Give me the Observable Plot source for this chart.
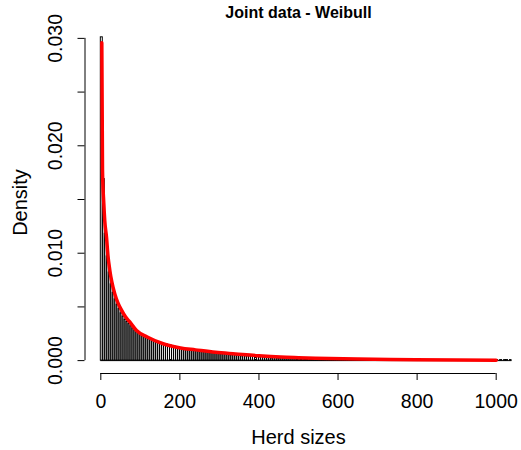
<!DOCTYPE html>
<html><head><meta charset="utf-8">
<script src="https://cdn.jsdelivr.net/npm/d3@7"></script>
<script src="https://cdn.jsdelivr.net/npm/@observablehq/plot@0.6"></script>
<style>body{margin:0;background:#fff;} svg{display:block}</style>
</head><body><div id="chart"></div>
<script>
const title = "Joint data - Weibull";
const xLabel = "Herd sizes";
const yLabel = "Density";
const binWidth = 5;
// histogram densities, one per 5-unit bin starting at 0
const densities = [
  0.0301, 0.0169, 0.0118, 0.0097, 0.0082, 0.0071, 0.0063, 0.0057, 0.0052, 0.0048,
  0.0044, 0.0041, 0.0038, 0.0036, 0.0034, 0.0032, 0.0030, 0.0028, 0.0027, 0.0025,
  0.0024, 0.0023, 0.0022, 0.0021, 0.0020, 0.0020, 0.0019, 0.0018, 0.0018, 0.0017,
  0.0016, 0.0016, 0.0015, 0.0015, 0.0014, 0.0014, 0.0013, 0.0013, 0.0012, 0.0012,
  0.0011, 0.0011, 0.0011, 0.0010, 0.0010, 0.0010, 0.0009, 0.0010, 0.0009, 0.0009,
  0.0008, 0.0009, 0.0008, 0.0008, 0.0008, 0.0007, 0.0008, 0.0007, 0.0007, 0.0007,
  0.0006, 0.0006, 0.0007, 0.0006, 0.0006, 0.0005, 0.0005, 0.0006, 0.0005, 0.0005,
  0.0005, 0.0004, 0.0005, 0.0004, 0.0004, 0.0004, 0.0004, 0.0004, 0.0003, 0.0004,
  0.0003, 0.0004, 0.0003, 0.0003, 0.0003, 0.0003, 0.0002, 0.0003, 0.0003, 0.0002,
  0.0002, 0.0003, 0.0002, 0.0002, 0.0002, 0.0002, 0.0002, 0.0002, 0.0002, 0.0001,
  0.0002, 0.0001, 0.0002, 0.0001, 0.0001, 0.0002, 0.0001, 0.0001, 0.0001, 0.0001,
  0.0001, 0.0001, 0.0001, 0.0002, 0.0001, 0.0001, 0.0001, 0.0001, 0.0001, 0.0001,
  0.0001, 0.0001, 0.00005, 0.0001, 0.0001, 0.00005, 0.0001, 0.00005, 0.0001, 0.00005,
  0.00005, 0.0001, 0.00005, 0.00005, 0.0001, 0.00005, 0.00005, 0.00005, 0.0001, 0.00005,
  0.00005, 0.00005, 0.00005, 0.0001, 0.00005, 0.00005, 0.00005, 0.00005, 0.00005, 0.00005,
  0.00005, 0.00005, 0, 0.00005, 0.00005, 0.00005, 0, 0.00005, 0.00005, 0.00005,
  0.00005, 0, 0.00005, 0.00005, 0, 0.00005, 0, 0.00005, 0.00005, 0,
  0.00005, 0, 0, 0.00005, 0.00005, 0, 0.00005, 0, 0, 0.00005,
  0, 0.00005, 0, 0.00005, 0, 0, 0.00005, 0, 0.00005, 0,
  0, 0.00005, 0, 0, 0.00005, 0, 0.00005, 0, 0, 0.00005,
  0.00005, 0, 0.00005, 0, 0.00005, 0.00005, 0, 0.00005, 0
];
// fitted Weibull density
const curveX = [2.5, 4.3, 7.6, 10, 14.4, 18, 22.8, 28, 35.4, 43, 52.4, 62, 73.3, 90.3, 117.3, 159.3, 201.6, 239.5, 290, 341, 400, 455, 500, 543, 650, 796, 900, 1000];
const curveY = [0.0296, 0.0177, 0.0146, 0.0130, 0.0115, 0.0098, 0.0084, 0.0073, 0.0062, 0.0054, 0.0047, 0.0041, 0.0036, 0.0028, 0.0022, 0.00155, 0.00118, 0.00100, 0.00077, 0.00062, 0.00045, 0.00033, 0.00027, 0.00022, 0.00014, 0.00008, 0.00005, 0.00003];
const xTicks = [0, 200, 400, 600, 800, 1000];
const yTicks = [0, 0.005, 0.01, 0.015, 0.02, 0.025, 0.03];
const yTickLabels = [0, 0.01, 0.02, 0.03];
const xLim = [0, 1000];
const yLim = [0, 0.03];

const bins = densities.map((d, i) => ({x1: i * binWidth, x2: (i + 1) * binWidth, density: d}));
const curvePts = curveX.map((x, i) => ({x, y: curveY[i]}));
const pad = 0.04;
const xDom = [xLim[0] - pad * (xLim[1] - xLim[0]), xLim[1] + pad * (xLim[1] - xLim[0])];
const yDom = [yLim[0] - pad * (yLim[1] - yLim[0]), yLim[1] + pad * (yLim[1] - yLim[0])];

const chart = Plot.plot({
  width: 521, height: 450,
  marginLeft: 84.5, marginRight: 9.5, marginTop: 25, marginBottom: 77,
  style: {fontFamily: "'Liberation Sans', Arial, sans-serif", fontSize: "19.5px", background: "white", color: "black"},
  x: {domain: xDom, label: null},
  y: {domain: yDom, label: null},
  marks: [
    Plot.rectY(bins, {x1: "x1", x2: "x2", y: "density", fill: "none", stroke: "black", strokeWidth: 1, clip: true}),
    Plot.ruleY([0], {x1: bins[0].x1, x2: bins[bins.length - 1].x2, stroke: "black", clip: true}),
    Plot.line(curvePts, {x: "x", y: "y", stroke: "red", strokeWidth: 3.5, curve: "monotone-x", clip: true}),
    Plot.axisX({ticks: xTicks, tickSize: 7, tickPadding: 14, label: null, tickFormat: d => String(d)}),
    Plot.ruleY([yDom[0]], {x1: xTicks[0], x2: xTicks[xTicks.length - 1]}),
    Plot.axisY({ticks: yTicks, tickSize: 7, tickFormat: () => "", label: null}),
    Plot.ruleX([xDom[0]], {y1: yTicks[0], y2: yTicks[yTicks.length - 1]}),
    Plot.text(yTickLabels, {y: d => d, text: d => d.toFixed(3), frameAnchor: "left", textAnchor: "middle", lineAnchor: "middle", dx: -29.5, rotate: -90}),
    Plot.text([yLabel], {frameAnchor: "left", textAnchor: "middle", lineAnchor: "middle", dx: -64.5, dy: 3, rotate: -90, fontSize: 20}),
    Plot.text([xLabel], {frameAnchor: "bottom", lineAnchor: "middle", dy: 64, fontSize: 20}),
    Plot.text([title], {frameAnchor: "top", lineAnchor: "middle", dy: -13, fontSize: 16, fontWeight: "bold"})
  ]
});
document.getElementById("chart").appendChild(chart);
</script>
</body></html>
